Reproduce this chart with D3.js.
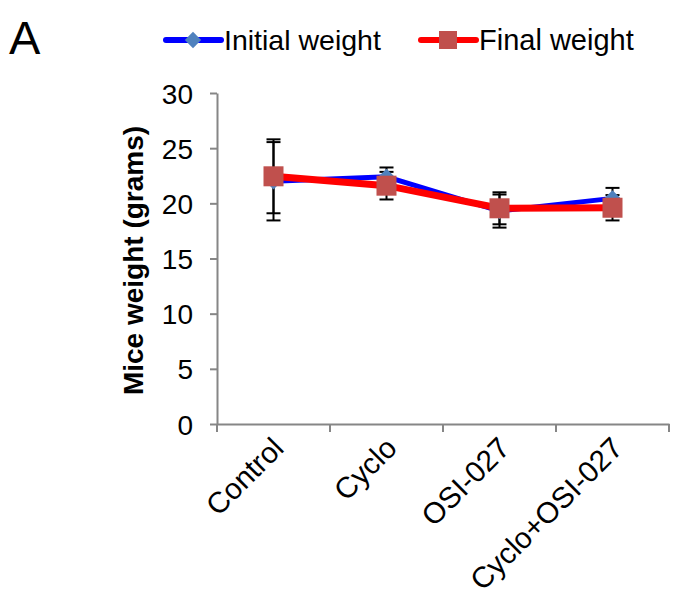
<!DOCTYPE html>
<html>
<head>
<meta charset="utf-8">
<script src="https://cdn.jsdelivr.net/npm/d3@7"></script>
<style>
  body { margin: 0; background: #fff; }
  svg { font-family: Arial, "Liberation Sans", sans-serif; }
</style>
</head>
<body>
<div id="chart"></div>
<script>
const width = 682;
const height = 598;
const margin = { top: 93, right: 13, bottom: 174, left: 217 };

// data
const groups = ["Control", "Cyclo", "OSI-027", "Cyclo+OSI-027"];
const initialWeight = [22.0, 22.4, 19.3, 20.45];
const initialErr = [3.55, 0.85, 1.5, 0.95];
const finalWeight = [22.45, 21.6, 19.55, 19.6];
const finalErr = [3.35, 1.25, 1.45, 1.15];
const yTicks = [0, 5, 10, 15, 20, 25, 30];

const svg = d3
    .select("#chart")
    .append("svg")
    .attr("width", width)
    .attr("height", height);

const x = d3
    .scaleBand()
    .domain(groups)
    .range([margin.left, width - margin.right]);

const y = d3
    .scaleLinear()
    .domain([0, 30])
    .range([height - margin.bottom, margin.top]);

const cx = (d) => x(d) + x.bandwidth() / 2;

// ===== AXES =====
const yAxis = svg
    .append("g")
    .attr("transform", `translate(${margin.left},0)`)
    .call(d3.axisLeft(y).tickValues(yTicks).tickSize(7).tickSizeOuter(0).tickPadding(17));
yAxis.selectAll("path, line").attr("stroke", "#868686").attr("stroke-width", 2);
yAxis.selectAll("text").style("font-size", "28px").attr("fill", "#000").attr("dy", "0.36em");

const xAxis = svg
    .append("g")
    .attr("transform", `translate(0,${y(0)})`)
    .call(d3.axisBottom(x).tickSize(0).tickFormat(""));
xAxis.selectAll("path").attr("stroke", "#868686").attr("stroke-width", 2);

// category separators (excel style ticks between groups)
const edges = groups.map((g) => x(g)).concat([width - margin.right]);
svg
    .selectAll(".xtick")
    .data(edges)
    .enter()
    .append("line")
    .attr("x1", (d) => d)
    .attr("x2", (d) => d)
    .attr("y1", y(0))
    .attr("y2", y(0) + 8)
    .attr("stroke", "#868686")
    .attr("stroke-width", 2);

svg
    .selectAll(".xlabel")
    .data(groups)
    .enter()
    .append("text")
    .attr("transform", (d) => `translate(${cx(d) + 12},${y(0) + 26}) rotate(-45)`)
    .attr("text-anchor", "end")
    .style("font-size", "29.5px")
    .text((d) => d);

svg
    .append("text")
    .attr("transform", `translate(143,${(y(0) + y(30)) / 2 + 2}) rotate(-90)`)
    .attr("text-anchor", "middle")
    .style("font-size", "28px")
    .style("font-weight", "bold")
    .text("Mice weight (grams)");

// ===== LINES =====
const line = d3
    .line()
    .x((d, i) => cx(groups[i]))
    .y((d) => y(d));

svg
    .append("path")
    .datum(initialWeight)
    .attr("d", line)
    .attr("fill", "none")
    .attr("stroke", "#0000FF")
    .attr("stroke-width", 5);

svg
    .append("path")
    .datum(finalWeight)
    .attr("d", line)
    .attr("fill", "none")
    .attr("stroke", "#FF0000")
    .attr("stroke-width", 7);

// ===== ERROR BARS =====
function errorBars(values, errs) {
    const g = svg.append("g").attr("stroke", "#000").attr("stroke-width", 2);
    values.forEach((v, i) => {
        const px = cx(groups[i]);
        g.append("line")
            .attr("x1", px).attr("x2", px)
            .attr("y1", y(v - errs[i])).attr("y2", y(v + errs[i]));
        [v - errs[i], v + errs[i]].forEach((e) => {
            g.append("line")
                .attr("x1", px - 7).attr("x2", px + 7)
                .attr("y1", y(e)).attr("y2", y(e));
        });
    });
}
errorBars(initialWeight, initialErr);
errorBars(finalWeight, finalErr);

// ===== MARKERS =====
const diamond = d3.symbol().type(d3.symbolDiamond2).size(170);
svg
    .selectAll(".m-init")
    .data(initialWeight)
    .enter()
    .append("path")
    .attr("d", diamond)
    .attr("transform", (d, i) => `translate(${cx(groups[i])},${y(d)})`)
    .attr("fill", "#4F81BD");

svg
    .selectAll(".m-final")
    .data(finalWeight)
    .enter()
    .append("rect")
    .attr("x", (d, i) => cx(groups[i]) - 10)
    .attr("y", (d) => y(d) - 10)
    .attr("width", 20)
    .attr("height", 20)
    .attr("fill", "#C0504D");

// ===== LEGEND =====
const legend = svg.append("g");
legend.append("line")
    .attr("x1", 166).attr("x2", 221).attr("y1", 40).attr("y2", 40)
    .attr("stroke", "#0000FF").attr("stroke-width", 6).attr("stroke-linecap", "round");
legend.append("path")
    .attr("d", diamond)
    .attr("transform", "translate(193,40)")
    .attr("fill", "#4F81BD");
legend.append("text")
    .attr("x", 224).attr("y", 50)
    .style("font-size", "28.5px")
    .text("Initial weight");

legend.append("line")
    .attr("x1", 421).attr("x2", 476).attr("y1", 40).attr("y2", 40)
    .attr("stroke", "#FF0000").attr("stroke-width", 6).attr("stroke-linecap", "round");
legend.append("rect")
    .attr("x", 439).attr("y", 31).attr("width", 18).attr("height", 18)
    .attr("fill", "#C0504D");
legend.append("text")
    .attr("x", 479).attr("y", 50)
    .style("font-size", "29px")
    .text("Final weight");

// panel letter
svg.append("text")
    .attr("x", 9).attr("y", 54)
    .style("font-size", "47px")
    .text("A");
</script>
</body>
</html>
